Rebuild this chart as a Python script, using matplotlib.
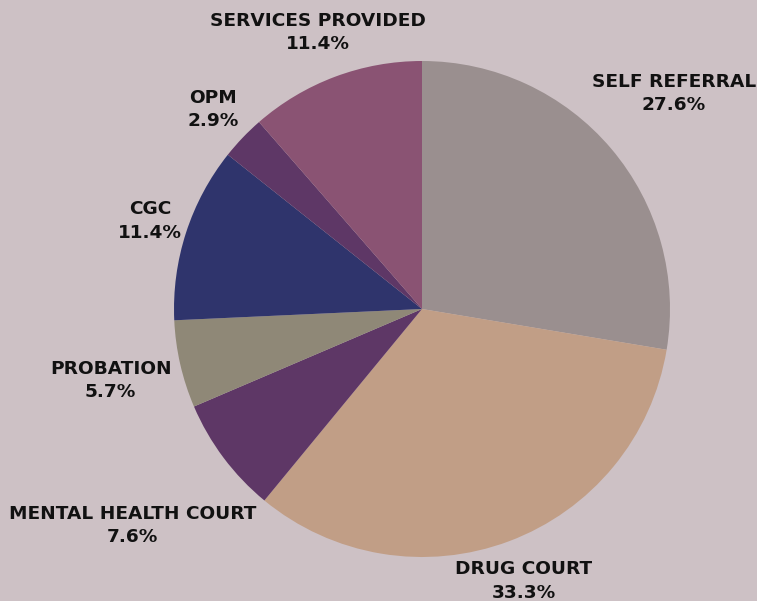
import numpy as np
import matplotlib
matplotlib.use("Agg")
import matplotlib.pyplot as plt

categories = ["SELF REFERRAL", "DRUG COURT", "MENTAL HEALTH COURT", "PROBATION",
              "CGC", "OPM", "SERVICES PROVIDED"]
shares = [27.6, 33.3, 7.6, 5.7, 11.4, 2.9, 11.4]
colors = ["#9a8f8f", "#c19e86", "#5e3766", "#8f8877", "#2f346c", "#5e3766", "#8a5373"]
# distance of each label centre from the pie centre, in pie radii
label_r = [1.343, 1.171, 1.458, 1.288, 1.152, 1.166, 1.192]

W, H = 757, 601
cx, cy, R = 422, 309, 248   # pie centre and radius in pixels

fig = plt.figure(figsize=(W / 100, H / 100), dpi=100)
fig.patch.set_facecolor("#cdc1c5")
ax = fig.add_axes([0, 0, 1, 1])

wedges, _ = ax.pie(shares, colors=colors, startangle=90, counterclock=False,
                   radius=1, wedgeprops=dict(linewidth=0))
ax.set_aspect("auto")
ax.set_xlim(-cx / R, (W - cx) / R)
ax.set_ylim(-(H - cy) / R, cy / R)
ax.axis("off")

renderer = fig.canvas.get_renderer()
for w, name, val, r in zip(wedges, categories, shares, label_r):
    ang = np.deg2rad((w.theta1 + w.theta2) / 2)
    x, y = r * np.cos(ang), r * np.sin(ang)
    t = ax.text(x, y, f"{name}\n{val:.1f}%", ha="center", va="center",
                family="DejaVu Sans", fontweight="bold",
                fontsize=13.3, color="#111111", linespacing=1.38)
    # keep labels inside the canvas
    bb = t.get_window_extent(renderer)
    if bb.x1 > W - 1:
        t.set_position((x - (bb.x1 - W + 1) / R, y))
    elif bb.x0 < 2:
        t.set_position((x + (2 - bb.x0) / R, y))

fig.savefig("out.png", dpi=100, facecolor=fig.get_facecolor())
